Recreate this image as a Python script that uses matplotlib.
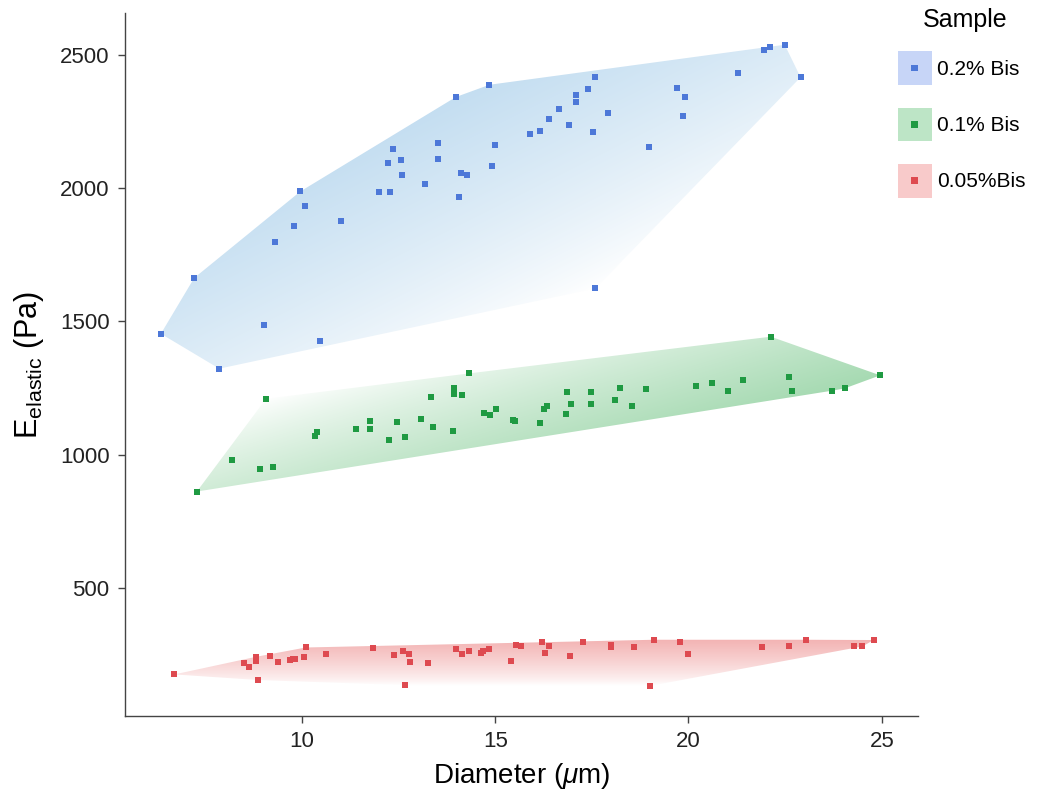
import numpy as np
import matplotlib
matplotlib.use("Agg")
import matplotlib.pyplot as plt
from matplotlib.patches import Patch, Polygon, Rectangle
from matplotlib.legend_handler import HandlerTuple, HandlerPatch

plt.rcParams["font.family"] = ["Liberation Sans", "DejaVu Sans"]
plt.rcParams["mathtext.fontset"] = "custom"
plt.rcParams["mathtext.rm"] = "Liberation Sans"
plt.rcParams["mathtext.it"] = "Liberation Sans:italic"

# --- data ---
samples = ["0.2% Bis", "0.1% Bis", "0.05%Bis"]

blue_x = [14.85, 13.98, 13.53, 13.53, 14.99, 14.92, 12.35, 12.57, 12.22, 12.60, 14.12, 14.27,
          13.19, 14.07, 12.00, 12.28, 9.96, 10.09, 11.02, 9.79, 9.30, 7.21, 6.35, 9.01, 10.47,
          7.86, 17.59, 17.41, 17.08, 17.10, 16.65, 16.39, 16.15, 15.91, 16.91, 17.53, 17.91,
          18.97, 19.70, 19.92, 19.85, 21.27, 21.96, 22.12, 22.49, 22.90, 17.59]
blue_y = [2388, 2342, 2168, 2110, 2162, 2082, 2147, 2107, 2093, 2051, 2058, 2051,
          2017, 1966, 1987, 1987, 1988, 1933, 1878, 1857, 1797, 1663, 1454, 1488, 1427,
          1323, 2416, 2373, 2351, 2325, 2298, 2258, 2216, 2202, 2237, 2211, 2282,
          2153, 2377, 2341, 2272, 2432, 2518, 2531, 2538, 2416, 1624]

green_x = [14.31, 9.07, 13.94, 13.94, 14.13, 13.33, 14.70, 14.87, 15.01, 11.76, 11.76, 11.41,
           12.45, 13.09, 13.39, 13.92, 12.26, 12.66, 10.38, 10.33, 8.19, 8.92, 9.24, 7.28,
           15.46, 15.52, 16.16, 16.26, 16.33, 16.82, 16.86, 16.95, 17.48, 17.48, 18.10, 18.22,
           18.54, 18.90, 20.20, 20.60, 21.02, 21.40, 22.13, 22.59, 22.67, 23.70, 24.04, 24.96]
green_y = [1305, 1210, 1251, 1229, 1225, 1217, 1155, 1149, 1170, 1125, 1095, 1098,
           1124, 1134, 1106, 1090, 1056, 1068, 1085, 1070, 981, 946, 955, 862,
           1131, 1125, 1120, 1172, 1183, 1153, 1235, 1189, 1234, 1189, 1205, 1251,
           1184, 1248, 1258, 1269, 1239, 1279, 1443, 1293, 1241, 1240, 1249, 1298]

red_x = [6.70, 8.50, 8.62, 8.81, 8.82, 8.86, 9.17, 9.37, 9.68, 9.76, 9.83, 10.04, 10.10,
         10.62, 11.85, 12.39, 12.62, 12.78, 12.79, 12.66, 13.26, 13.98, 14.13, 14.33, 14.62,
         14.69, 14.84, 15.42, 15.55, 15.66, 16.20, 16.40, 16.30, 16.93, 17.27, 17.99, 17.99,
         18.58, 19.10, 19.77, 20.00, 19.00, 21.91, 22.61, 23.03, 24.28, 24.50, 24.79]
red_y = [176, 218, 203, 242, 228, 155, 246, 223, 231, 233, 233, 242, 277,
         253, 275, 247, 262, 253, 224, 136, 218, 271, 253, 263, 256,
         262, 271, 228, 287, 283, 296, 281, 258, 246, 297, 287, 277,
         277, 306, 297, 252, 133, 278, 284, 306, 281, 281, 305]

point_colors = ["#4d78d8", "#1f9a42", "#de4a50"]
fill_colors = ["#c4def1", "#a6dab2", "#f3b3b3"]
key_colors = ["#c7d5f7", "#bde5c6", "#f8caca"]
# gradient direction (in screen pixels, y down); coloured end at the low side
grad_dirs = [(0.45, 0.9), (-0.3, -1.0), (0.0, 1.0)]

xlim = (5.42, 25.93)
ylim = (20, 2658)


def convex_hull(xs, ys):
    pts = sorted(set(zip(xs, ys)))

    def cross(o, a, b):
        return (a[0] - o[0]) * (b[1] - o[1]) - (a[1] - o[1]) * (b[0] - o[0])

    lower, upper = [], []
    for p in pts:
        while len(lower) >= 2 and cross(lower[-2], lower[-1], p) <= 0:
            lower.pop()
        lower.append(p)
    for p in reversed(pts):
        while len(upper) >= 2 and cross(upper[-2], upper[-1], p) <= 0:
            upper.pop()
        upper.append(p)
    return np.array(lower[:-1] + upper[:-1])


def small_square(legend, orig_handle, xdescent, ydescent, width, height, fontsize):
    s = 5
    return Rectangle((-xdescent + width / 2 - s / 2, -ydescent + height / 2 - s / 2), s, s)


fig = plt.figure(figsize=(10.5, 8), dpi=100)
ax = fig.add_axes([0.119, 0.105, 0.755, 0.879])
W, H = 0.755 * 1050, 0.879 * 800

gx = np.linspace(xlim[0], xlim[1], 500)
gy = np.linspace(ylim[0], ylim[1], 500)
GX, GY = np.meshgrid(gx, gy)
PX = (GX - xlim[0]) / (xlim[1] - xlim[0]) * W
PY = (ylim[1] - GY) / (ylim[1] - ylim[0]) * H

groups = [(blue_x, blue_y), (green_x, green_y), (red_x, red_y)]
for (xs, ys), pc, fc, (dx, dy) in zip(groups, point_colors, fill_colors, grad_dirs):
    hull = convex_hull(xs, ys)
    hpx = (hull[:, 0] - xlim[0]) / (xlim[1] - xlim[0]) * W
    hpy = (ylim[1] - hull[:, 1]) / (ylim[1] - ylim[0]) * H
    hproj = dx * hpx + dy * hpy
    proj = dx * PX + dy * PY
    s = np.clip((proj - hproj.min()) / (hproj.max() - hproj.min()), 0, 1)
    k = (1 - s) ** 0.8
    rgb = np.array(matplotlib.colors.to_rgb(fc))
    img = 1 - (1 - rgb)[None, None, :] * k[:, :, None]
    poly = Polygon(hull, closed=True, facecolor="none", edgecolor="none", transform=ax.transData)
    ax.add_patch(poly)
    im = ax.imshow(img, origin="lower", extent=(xlim[0], xlim[1], ylim[0], ylim[1]),
                   aspect="auto", interpolation="bilinear", zorder=1)
    im.set_clip_path(poly)
    ax.scatter(xs, ys, marker="s", s=16, color=pc, linewidths=0, zorder=3)

ax.set_xlim(*xlim)
ax.set_ylim(*ylim)
ax.set_xticks([10, 15, 20, 25])
ax.set_yticks([500, 1000, 1500, 2000, 2500])
for side in ["top", "right"]:
    ax.spines[side].set_visible(False)
for side in ["left", "bottom"]:
    ax.spines[side].set_color("#444444")
    ax.spines[side].set_linewidth(1.0)
ax.tick_params(axis="both", direction="out", length=5, width=1, color="#444444",
               labelsize=16, labelcolor="#222222", pad=6)

ax.set_xlabel("Diameter ($\\mu$m)", fontsize=20, labelpad=6)
ax.set_ylabel("E$_{\\rm elastic}$ (Pa)", fontsize=22, labelpad=10)

# legend: light key square with the point marker in its centre
handles = []
hmap = {tuple: HandlerTuple(ndivide=1)}
for pc, kc in zip(point_colors, key_colors):
    dot = Patch(facecolor=pc, edgecolor="none")
    hmap[dot] = HandlerPatch(patch_func=small_square)
    handles.append((Patch(facecolor=kc, edgecolor="none"), dot))
leg = fig.legend(handles, samples, loc="upper left",
                 bbox_to_anchor=(0.8455, 0.949), frameon=False, fontsize=15,
                 handlelength=1.6, handleheight=2.1,
                 labelspacing=1.1, handletextpad=0.25, borderpad=0.0,
                 handler_map=hmap)
fig.text(0.919, 0.975, "Sample", ha="center", va="center", fontsize=18)

fig.savefig("out.png", dpi=100)
